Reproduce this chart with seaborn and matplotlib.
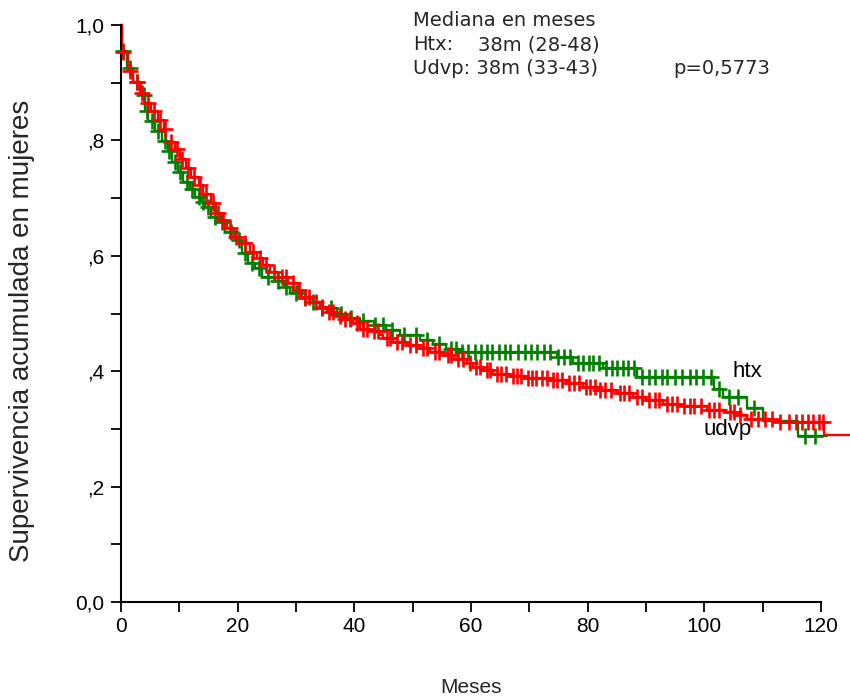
import numpy as np
import pandas as pd
import matplotlib
matplotlib.use("Agg")
import matplotlib.pyplot as plt
import seaborn as sns

# ---------------- data ----------------
# Kaplan-Meier step curves: time of each step and survival value after it
htx_time = [0, 0.1, 1.0, 2.1, 3.5, 4.1, 4.7, 5.8, 7.0, 8.1, 8.7, 9.8, 10.7, 11.8,
            12.7, 13.8, 14.4, 15.5, 16.7, 17.8, 19.5, 20.7, 21.8, 23.0, 24.1,
            26.4, 28.0, 29.0, 30.7, 32.4, 34.1, 37.0, 38.7, 41.0, 43.3, 45.5,
            47.8, 51.3, 53.5, 55.8, 58.1, 74.7, 77.5, 82.7, 88.4, 101.6, 103.3,
            107.3, 110.1, 116.1, 121.0]
htx_surv = [1.0, 0.955, 0.926, 0.901, 0.879, 0.851, 0.834, 0.816, 0.799, 0.782,
            0.763, 0.746, 0.728, 0.715, 0.702, 0.694, 0.684, 0.667, 0.659, 0.642,
            0.627, 0.604, 0.587, 0.578, 0.564, 0.556, 0.546, 0.535, 0.527, 0.520,
            0.509, 0.500, 0.493, 0.487, 0.480, 0.471, 0.463, 0.454, 0.448, 0.438,
            0.433, 0.425, 0.414, 0.405, 0.390, 0.370, 0.356, 0.336, 0.314, 0.288,
            0.288]
htx_censor = [0.4, 1.5, 2.8, 3.9, 4.4, 5.3, 6.3, 7.5, 8.3, 9.2, 10.2, 11.3, 12.2,
              13.3, 14.1, 15.0, 16.2, 17.3, 18.8, 20.2, 21.3, 22.5, 23.6, 25.2,
              27.0, 28.3, 30.0, 31.5, 33.0, 34.5, 36.0, 37.8, 39.5, 41.5, 43.5,
              45.0, 46.5, 48.5, 50.5, 52.5, 54.5, 56.5, 57.5, 58.5, 59.5, 60.7,
              61.7, 62.8, 63.7, 64.8, 65.8, 66.7, 68.0, 69.2, 70.3, 71.3, 72.5,
              73.5, 75.0, 76.0, 77.0, 78.3, 79.3, 80.2, 81.0, 82.0, 83.2, 84.2,
              85.0, 86.0, 87.0, 88.0, 89.3, 90.5, 91.5, 92.7, 93.7, 95.0, 96.2,
              97.5, 98.6, 99.8, 101.2, 102.5, 104.3, 105.8, 108.5, 117.2, 119.0]

udvp_time = [0, 0.1, 1.26, 2.1, 3.26, 4.1, 5.1, 6.3, 7.3, 7.8, 9.3, 10.1, 11.1,
             12.0, 13.3, 14.1, 15.4, 16.3, 17.1, 18.1, 19.4, 20.4, 22.1, 23.3,
             24.4, 25.5, 27.0, 28.7, 30.4, 31.0, 33.0, 34.1, 35.3, 37.0, 38.1,
             39.8, 41.0, 42.7, 44.4, 45.0, 46.7, 49.0, 51.3, 53.0, 55.3, 57.0,
             59.3, 60.4, 62.1, 63.8, 66.7, 69.5, 73.5, 76.4, 79.3, 81.6, 85.0,
             87.8, 90.1, 93.0, 95.8, 100.4, 103.8, 105.5, 107.3, 112.0, 120.6, 125.0]
udvp_surv = [1.0, 0.954, 0.920, 0.901, 0.882, 0.864, 0.851, 0.836, 0.819, 0.798,
             0.785, 0.767, 0.753, 0.737, 0.722, 0.707, 0.691, 0.675, 0.662, 0.648,
             0.633, 0.623, 0.607, 0.596, 0.584, 0.572, 0.563, 0.552, 0.541, 0.529,
             0.520, 0.512, 0.503, 0.496, 0.490, 0.483, 0.474, 0.469, 0.463, 0.457,
             0.451, 0.445, 0.440, 0.434, 0.428, 0.422, 0.415, 0.408, 0.402, 0.396,
             0.392, 0.388, 0.384, 0.379, 0.373, 0.367, 0.362, 0.356, 0.350, 0.344,
             0.339, 0.333, 0.330, 0.324, 0.318, 0.312, 0.290, 0.290]
udvp_censor = [0.4, 1.6, 2.7, 3.6, 4.6, 5.6, 6.7, 7.5, 8.5, 9.6, 10.5, 11.5, 12.6,
               13.6, 14.6, 15.8, 16.6, 17.5, 18.7, 19.8, 21.2, 22.6, 23.8, 24.9,
               26.2, 27.6, 28.3, 29.5, 30.6, 31.6, 32.3, 33.5, 34.5, 35.6, 36.3,
               37.5, 38.4, 39.2, 40.4, 41.5, 42.2, 43.3, 44.1, 45.6, 46.2, 47.4,
               48.2, 49.6, 50.5, 51.8, 52.5, 53.8, 54.5, 56.0, 56.6, 57.8, 58.6,
               59.8, 60.8, 61.5, 62.7, 63.3, 64.5, 65.2, 66.0, 67.2, 67.9, 68.6,
               69.8, 70.4, 71.2, 72.2, 73.0, 74.0, 74.8, 75.7, 76.9, 77.6, 78.5,
               79.8, 80.5, 81.2, 82.2, 83.0, 84.1, 85.6, 86.3, 87.1, 88.5, 89.3,
               90.6, 91.5, 92.3, 93.6, 94.5, 95.3, 96.6, 97.5, 98.3, 99.4, 100.8,
               101.6, 102.6, 104.4, 105.1, 106.2, 108.0, 109.3, 110.5, 111.6, 113.0,
               114.6, 115.8, 116.8, 117.8, 118.6, 119.6, 120.3]

x_ticks = [0, 20, 40, 60, 80, 100, 120]
x_minor = [10, 30, 50, 70, 90, 110]
y_ticks = [0.0, 0.2, 0.4, 0.6, 0.8, 1.0]
y_tick_labels = ["0,0", ",2", ",4", ",6", ",8", "1,0"]
y_minor = [0.1, 0.3, 0.5, 0.7, 0.9]

group_labels = ["htx", "udvp"]
group_label_pos = [(104.9, 0.399), (99.8, 0.299)]
stats_lines = ["Mediana en meses", "Htx:", "38m (28-48)", "Udvp: 38m (33-43)", "p=0,5773"]

GREEN = "#008000"
RED = "#FF0000"

# ---------------- figure ----------------
sns.set_style("ticks")
plt.rcParams["font.family"] = ["Liberation Sans", "DejaVu Sans"]

fig = plt.figure(figsize=(8.5, 7), dpi=100)
ax = fig.add_axes([121 / 850, 98 / 700, 729 / 850, 577 / 700])


def censor_y(times, surv, cens):
    t = np.asarray(times)
    s = np.asarray(surv)
    idx = np.searchsorted(t, np.asarray(cens), side="right") - 1
    return s[idx]


for times, surv, cens, col in [(htx_time, htx_surv, htx_censor, GREEN),
                               (udvp_time, udvp_surv, udvp_censor, RED)]:
    df = pd.DataFrame({"t": times, "s": surv})
    sns.lineplot(data=df, x="t", y="s", ax=ax, estimator=None, sort=False,
                 drawstyle="steps-post", color=col, linewidth=1.7, clip_on=False)
    dc = pd.DataFrame({"t": cens, "s": censor_y(times, surv, cens)})
    sns.scatterplot(data=dc, x="t", y="s", ax=ax, marker="+", s=120,
                    color=col, linewidth=1.9, clip_on=False, zorder=3)

ax.set_xlim(0, 125)
ax.set_ylim(0, 1.0)
ax.spines["top"].set_visible(False)
ax.spines["right"].set_visible(False)
ax.spines["bottom"].set_bounds(0, 120)
for sp in ("left", "bottom"):
    ax.spines[sp].set_linewidth(1.5)
    ax.spines[sp].set_color("black")

ax.set_xticks(x_ticks)
ax.set_xticks(x_minor, minor=True)
ax.set_yticks(y_ticks)
ax.set_yticklabels(y_tick_labels)
ax.set_yticks(y_minor, minor=True)
ax.tick_params(which="both", direction="out", length=7, width=1.3, color="black",
               labelsize=15, labelcolor="black")
ax.tick_params(axis="x", pad=4)
ax.tick_params(axis="y", pad=5)

ax.set_xlabel("Meses", fontsize=15)
ax.xaxis.set_label_coords(0.4802, -0.1482)   # centre near pixel (471, 687)
ax.xaxis.label.set_va("center")
ax.set_ylabel("Supervivencia acumulada en mujeres", fontsize=20)
ax.yaxis.set_label_coords(-0.136, 0.47)
ax.yaxis.label.set_va("center")

for lab, (x, y) in zip(group_labels, group_label_pos):
    ax.text(x, y, lab, fontsize=16, ha="left", va="center", color="black")

# statistics block (figure pixel positions)
def ftext(px, py, s):
    fig.text(px / 850, 1 - py / 700, s, fontsize=14, ha="left", va="center",
             family=["DejaVu Sans"])

ftext(413, 21, stats_lines[0])
ftext(413, 45, stats_lines[1])
ftext(478, 45, stats_lines[2])
ftext(413, 69, stats_lines[3])
ftext(673, 69, stats_lines[4])

fig.savefig("out.png", dpi=100)
